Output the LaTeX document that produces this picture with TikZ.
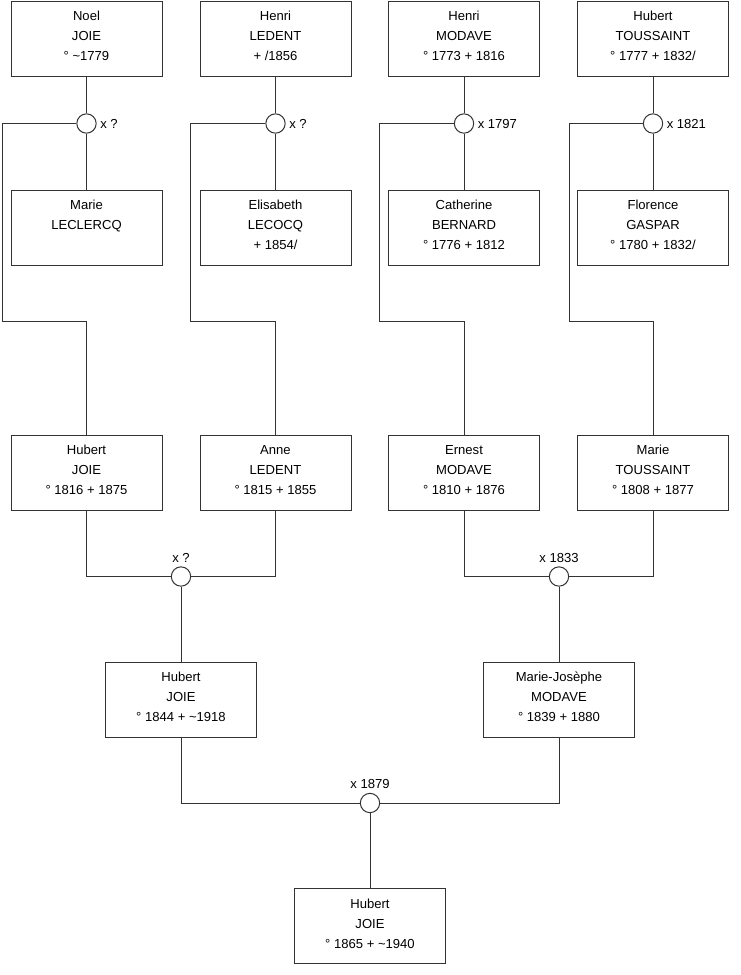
\documentclass[tikz,border=0pt]{standalone}
\usepackage{fontspec}
\setmainfont{Liberation Sans}
\definecolor{ln}{HTML}{333333}
\tikzset{
  pbox/.style={draw=ln, line width=0.75pt, rectangle, minimum width=113.25pt, minimum height=56.25pt, inner sep=0pt},
  ptxt/.style={anchor=north, yshift=-7.8pt, inner sep=0pt, align=center, font=\fontsize{9.8}{15}\selectfont},
  mcirc/.style={draw=ln, line width=0.75pt, circle, minimum size=14.5pt, inner sep=0pt, fill=white},
  mlabr/.style={anchor=west, xshift=2.5pt, inner sep=0pt, font=\fontsize{9.8}{12}\selectfont},
  mlabt/.style={anchor=south, yshift=2.6pt, inner sep=0pt, font=\fontsize{9.8}{12}\selectfont},
  conn/.style={draw=ln, line width=0.75pt}
}
\begin{document}
\begin{tikzpicture}[x=0.75pt, y=-0.75pt]
\useasboundingbox (0,0) rectangle (740,975);

% top row
\node[pbox] (p1) at (86.5,38.5) {};
\node[ptxt] (t1) at (p1.north) {Noel\\JOIE\\° \textasciitilde1779};
\node[pbox] (p2) at (275.5,38.5) {};
\node[ptxt] (t2) at (p2.north) {Henri\\LEDENT\\+ /1856};
\node[pbox] (p3) at (464,38.5) {};
\node[ptxt] (t3) at (p3.north) {Henri\\MODAVE\\° 1773 + 1816};
\node[pbox] (p4) at (653,38.5) {};
\node[ptxt] (t4) at (p4.north) {Hubert\\TOUSSAINT\\° 1777 + 1832/};

% second row
\node[pbox] (s1) at (86.5,227.5) {};
\node[ptxt] (u1) at (s1.north) {Marie\\LECLERCQ};
\node[pbox] (s2) at (275.5,227.5) {};
\node[ptxt] (u2) at (s2.north) {Elisabeth\\LECOCQ\\+ 1854/};
\node[pbox] (s3) at (464,227.5) {};
\node[ptxt] (u3) at (s3.north) {Catherine\\BERNARD\\° 1776 + 1812};
\node[pbox] (s4) at (653,227.5) {};
\node[ptxt] (u4) at (s4.north) {Florence\\GASPAR\\° 1780 + 1832/};

% middle row
\node[pbox] (m1) at (86.5,472.5) {};
\node[ptxt] (v1) at (m1.north) {Hubert\\JOIE\\° 1816 + 1875};
\node[pbox] (m2) at (275.5,472.5) {};
\node[ptxt] (v2) at (m2.north) {Anne\\LEDENT\\° 1815 + 1855};
\node[pbox] (m3) at (464,472.5) {};
\node[ptxt] (v3) at (m3.north) {Ernest\\MODAVE\\° 1810 + 1876};
\node[pbox] (m4) at (653,472.5) {};
\node[ptxt] (v4) at (m4.north) {Marie\\TOUSSAINT\\° 1808 + 1877};

% third row
\node[pbox] (g1) at (181,699.5) {};
\node[ptxt] (w1) at (g1.north) {Hubert\\JOIE\\° 1844 + \textasciitilde1918};
\node[pbox] (g2) at (559,699.5) {};
\node[ptxt] (w2) at (g2.north) {Marie-Josèphe\\MODAVE\\° 1839 + 1880};

% bottom
\node[pbox] (b1) at (370,926) {};
\node[ptxt] (z1) at (b1.north) {Hubert\\JOIE\\° 1865 + \textasciitilde1940};

% marriage circles
\node[mcirc] (c1) at (86.5,123.5) {};
\node[mcirc] (c2) at (275.5,123.5) {};
\node[mcirc] (c3) at (464,123.5) {};
\node[mcirc] (c4) at (653,123.5) {};
\node[mcirc] (c5) at (181,576.5) {};
\node[mcirc] (c6) at (559,576.5) {};
\node[mcirc] (c7) at (370,803) {};

\node[mlabr] (l1) at (c1.east) {x ?};
\node[mlabr] (l2) at (c2.east) {x ?};
\node[mlabr] (l3) at (c3.east) {x 1797};
\node[mlabr] (l4) at (c4.east) {x 1821};
\node[mlabt] (l5) at (c5.north) {x ?};
\node[mlabt] (l6) at (c6.north) {x 1833};
\node[mlabt] (l7) at (c7.north) {x 1879};

% connectors top
\foreach \i in {1,2,3,4}{
  \draw[conn] (p\i.south) -- (c\i.north);
  \draw[conn] (c\i.south) -- (s\i.north);
}
\draw[conn] (c1.west) -| (2.5,321.5) -| (m1.north);
\draw[conn] (c2.west) -| (190.5,321.5) -| (m2.north);
\draw[conn] (c3.west) -| (379.5,321.5) -| (m3.north);
\draw[conn] (c4.west) -| (569.5,321.5) -| (m4.north);

% middle connectors
\draw[conn] (m1.south) |- (c5.west);
\draw[conn] (m2.south) |- (c5.east);
\draw[conn] (c5.south) -- (g1.north);
\draw[conn] (m3.south) |- (c6.west);
\draw[conn] (m4.south) |- (c6.east);
\draw[conn] (c6.south) -- (g2.north);

% bottom connectors
\draw[conn] (g1.south) |- (c7.west);
\draw[conn] (g2.south) |- (c7.east);
\draw[conn] (c7.south) -- (b1.north);
\end{tikzpicture}
\end{document}
